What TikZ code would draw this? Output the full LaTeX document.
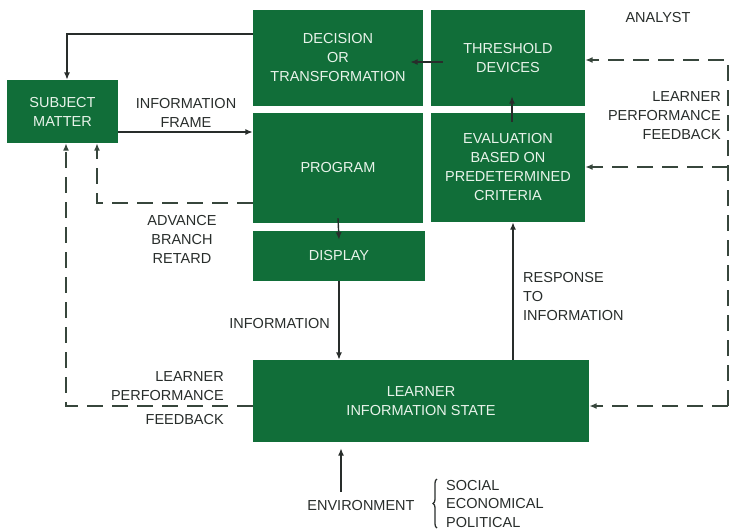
\documentclass[tikz,border=0pt]{standalone}
\usepackage{fontspec}
\setmainfont{Liberation Sans}
\usetikzlibrary{arrows.meta,decorations.pathreplacing}
\definecolor{boxgreen}{RGB}{17,110,57}
\definecolor{boxtext}{RGB}{232,243,234}
\definecolor{ink}{RGB}{40,45,43}
\definecolor{dashink}{RGB}{55,70,60}

\begin{document}
\begin{tikzpicture}[x=1pt,y=-1pt,
  box/.style={fill=boxgreen, draw=none, inner sep=0pt, align=center,
    text=boxtext, font=\fontsize{14.5}{19}\selectfont},
  lbl/.style={text=ink, inner sep=0pt, font=\fontsize{14.5}{19}\selectfont},
  link/.style={draw=ink, line width=1.4pt, -{Latex[length=7.5pt,width=6pt]}},
  fb/.style={draw=dashink, line width=2pt, dash pattern=on 16pt off 9pt,
    -{Latex[length=7.5pt,width=6pt]}},
]
\useasboundingbox (0,0) rectangle (730,530);

% blocks
\node[box, minimum width=111pt, minimum height=63pt]  (subj) at (62.5,111.5) {SUBJECT\\MATTER};
\node[box, minimum width=170pt, minimum height=96pt]  (dec)  at (338,58)     {DECISION\\OR\\TRANSFORMATION};
\node[box, minimum width=154pt, minimum height=96pt]  (thr)  at (508,58)     {THRESHOLD\\DEVICES};
\node[box, minimum width=170pt, minimum height=110pt] (prog) at (338,168)    {PROGRAM};
\node[box, minimum width=154pt, minimum height=109pt] (eval) at (508,167.5)  {EVALUATION\\BASED ON\\PREDETERMINED\\CRITERIA};
\node[box, minimum width=172pt, minimum height=50pt]  (disp) at (339,256)    {DISPLAY};
\node[box, minimum width=336pt, minimum height=82pt]  (lrn)  at (421,401)    {LEARNER\\INFORMATION STATE};

% labels
\node[lbl, align=center] (lframe) at (186,112.5) {INFORMATION\\FRAME};
\node[lbl, align=center] (lbranch) at (182,239) {ADVANCE\\BRANCH\\RETARD};
\node[lbl] (lanalyst) at (658,18) {ANALYST};
\node[lbl, align=right, anchor=east] (lfbr) at (721,116) {LEARNER\\PERFORMANCE\\FEEDBACK};
\node[lbl, anchor=east] (linfo) at (330,324) {INFORMATION};
\node[lbl, align=left, anchor=west] (lresp) at (523,297) {RESPONSE\\TO\\INFORMATION};
\node[lbl, anchor=east] (lfbl1) at (224,377) {LEARNER};
\node[lbl, anchor=east] (lfbl2) at (224,396) {PERFORMANCE};
\node[lbl, anchor=east] (lfbl3) at (224,420) {FEEDBACK};
\node[lbl] (lenv) at (361,505) {ENVIRONMENT};
\node[lbl, anchor=base west] (lsoc) at (446,490) {SOCIAL};
\node[lbl, anchor=base west] (leco) at (446,508.5) {ECONOMICAL};
\node[lbl, anchor=base west] (lpol) at (446,527) {POLITICAL};
\draw[ink, line width=1.3pt, decorate, decoration={brace, amplitude=4pt}]
  (437,528) -- (437,479);

% routing points
\coordinate (c1) at (67,34);
\coordinate (c2) at (97,203);
\coordinate (c3) at (66,406);
\coordinate (r1) at (728,406);
\coordinate (r2) at (728,60);
\coordinate (r3) at (728,167);
\coordinate (e0) at (341,492);

% solid connectors
\draw[link] (dec.west |- c1) -- (c1) -- (c1 |- subj.north);
\draw[link] (subj.east |- 0,132) -- (prog.west |- 0,132);
\draw[link] ([xshift=12pt,yshift=-4pt]thr.west) -- ([xshift=-13pt,yshift=-4pt]dec.east);
\draw[link] ([xshift=4pt,yshift=-9pt]eval.north) -- ([xshift=4pt,yshift=10pt]thr.south);
\draw[link] ([yshift=5pt]prog.south) -- ([yshift=-9pt]disp.north);
\draw[link] (disp.south) -- (lrn.north -| disp.south);
\draw[link] (lrn.north -| 513,0) -- (eval.south -| 513,0);
\draw[link, shorten >=6pt] (e0) -- (e0 |- lrn.south);

% feedback loops
\draw[fb] (prog.west |- c2) -- (c2) -- (c2 |- subj.south);
\draw[fb] (lrn.west |- c3) -- (c3) -- (c3 |- subj.south);
\draw[fb] (r1) -- (lrn.east |- r1);
\draw[fb] (r1) -- (r2) -- (thr.east |- r2);
\draw[fb] (r3) -- (eval.east |- r3);
\end{tikzpicture}
\end{document}
